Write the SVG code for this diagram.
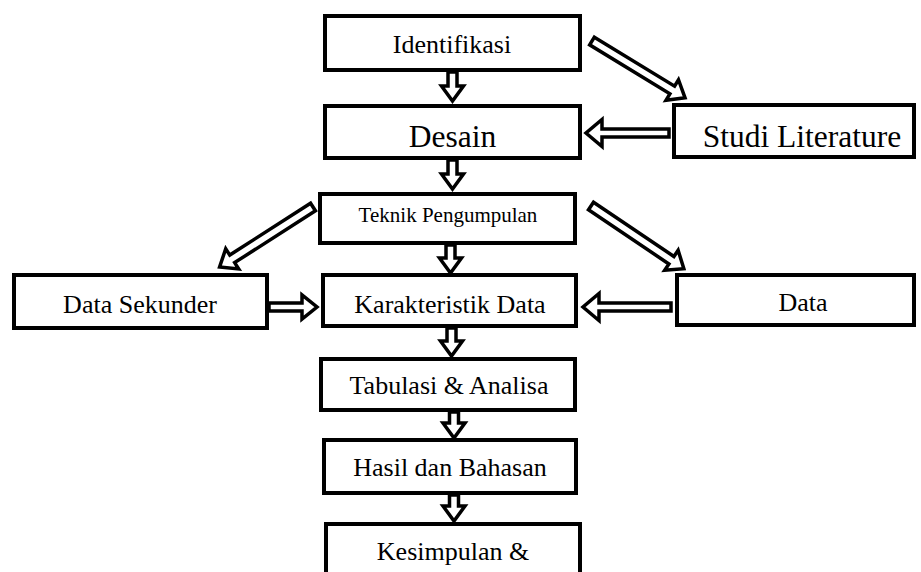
<svg xmlns="http://www.w3.org/2000/svg" width="921" height="572" viewBox="0 0 921 572">
<style>
.box{fill:#fff;stroke:#000;stroke-width:4}
.arr{fill:#fff;stroke:#000;stroke-width:3.5;stroke-linejoin:miter;stroke-miterlimit:10}
text{font-family:"Liberation Serif","Times New Roman",serif;fill:#000;text-anchor:middle}
.t26{font-size:26px}
.t31{font-size:31.5px}
.t21{font-size:21px}
</style>
<rect width="921" height="572" fill="#fff"/>
<g id="connectors">
<path class="arr" transform="translate(452.5,72) rotate(90)" d="M0,-4.5 H14 V-11 L29,0 L14,11 V4.5 H0 Z"/>
<path class="arr" transform="translate(452.5,160) rotate(90)" d="M0,-4.5 H14 V-11 L29,0 L14,11 V4.5 H0 Z"/>
<path class="arr" transform="translate(450.5,245) rotate(90)" d="M0,-4.5 H13 V-11 L28,0 L13,11 V4.5 H0 Z"/>
<path class="arr" transform="translate(451.5,328) rotate(90)" d="M0,-4.5 H13 V-11 L28,0 L13,11 V4.5 H0 Z"/>
<path class="arr" transform="translate(454,412) rotate(90)" d="M0,-4.5 H11 V-11 L26,0 L11,11 V4.5 H0 Z"/>
<path class="arr" transform="translate(454,495) rotate(90)" d="M0,-4.5 H11 V-11 L26,0 L11,11 V4.5 H0 Z"/>
<path class="arr" transform="translate(669,133) rotate(180)" d="M0,-4 H67 V-13.5 L83,0 L67,13.5 V4 H0 Z"/>
<path class="arr" transform="translate(671,307) rotate(180)" d="M0,-4 H72 V-13.5 L88,0 L72,13.5 V4 H0 Z"/>
<path class="arr" transform="translate(269,307)" d="M0,-4 H33 V-12 L48,0 L33,12 V4 H0 Z"/>
<path class="arr" transform="translate(592,41) rotate(31.4)" d="M0,-4.5 H94 V-12 L109,0 L94,12 V4.5 H0 Z"/>
<path class="arr" transform="translate(313,207) rotate(147.3)" d="M0,-4.5 H96 V-12 L111,0 L96,12 V4.5 H0 Z"/>
<path class="arr" transform="translate(591,206) rotate(34)" d="M0,-4.5 H97 V-12 L112,0 L97,12 V4.5 H0 Z"/>
</g>
<g id="identifikasi"><rect class="box" x="325" y="16" width="255" height="54"/><text class="t26" x="452" y="53">Identifikasi</text></g>
<g id="desain"><rect class="box" x="325" y="106" width="255" height="52"/><text class="t31" x="452.5" y="147">Desain</text></g>
<g id="studi-literature"><rect class="box" x="674" y="105" width="240" height="52"/><text class="t31" x="802" y="147">Studi Literature</text></g>
<g id="teknik-pengumpulan"><rect class="box" x="320" y="194" width="255" height="49"/><text class="t21" x="448" y="222">Teknik Pengumpulan</text></g>
<g id="data-sekunder"><rect class="box" x="14" y="275" width="253" height="53"/><text class="t26" x="140" y="313">Data Sekunder</text></g>
<g id="karakteristik-data"><rect class="box" x="323" y="275" width="253" height="51"/><text class="t26" x="450" y="313">Karakteristik Data</text></g>
<g id="data"><rect class="box" x="677" y="275" width="237" height="50"/><text class="t26" x="803" y="311">Data</text></g>
<g id="tabulasi-analisa"><rect class="box" x="321" y="359" width="254" height="51"/><text class="t26" x="449" y="394">Tabulasi &amp; Analisa</text></g>
<g id="hasil-bahasan"><rect class="box" x="324" y="440" width="252" height="53"/><text class="t26" x="450" y="476">Hasil dan Bahasan</text></g>
<g id="kesimpulan"><rect class="box" x="326" y="524" width="254" height="60"/><text class="t26" x="453" y="560">Kesimpulan &amp;</text></g>
</svg>
